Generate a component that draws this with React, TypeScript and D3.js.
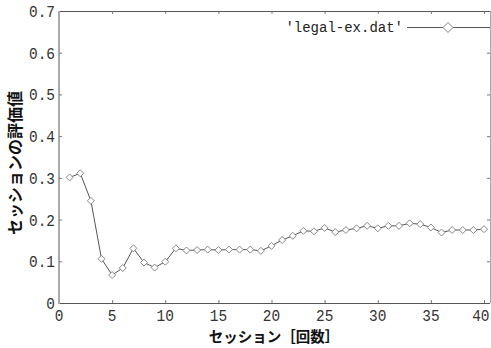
import React from "react";
import * as d3 from "d3";

// values, one per session 1..40
const sessions = d3.range(1, 41);
const scores = [
    0.301, 0.311, 0.245, 0.106, 0.067, 0.084, 0.131, 0.097, 0.085, 0.099,
    0.131, 0.126, 0.127, 0.128, 0.127, 0.128, 0.128, 0.128, 0.125, 0.137,
    0.151, 0.161, 0.173, 0.172, 0.180, 0.170, 0.175, 0.179, 0.185, 0.179,
    0.185, 0.185, 0.191, 0.189, 0.181, 0.169, 0.175, 0.175, 0.175, 0.177,
];
const xTicks = [0, 5, 10, 15, 20, 25, 30, 35, 40];
const yTicks = [0, 0.1, 0.2, 0.3, 0.4, 0.5, 0.6, 0.7];
const seriesName = "'legal-ex.dat'";
const xTitle = "セッション［回数］";
const yTitle = "セッションの評価値";

const width = 491;
const height = 348;
const margin = { top: 11, right: 0, bottom: 45, left: 59 };
const tickFont = "'Liberation Mono', monospace";
const jpFont = "'Noto Sans CJK JP', sans-serif";

function diamond(cx: number, cy: number, r: number) {
    return `M${cx},${cy - r}L${cx + r},${cy}L${cx},${cy + r}L${cx - r},${cy}Z`;
}

export default function App() {
    const x = d3
        .scaleLinear()
        .domain([0, 40])
        .range([margin.left, 484]);
    const y = d3
        .scaleLinear()
        .domain([0, 0.7])
        .range([height - margin.bottom, margin.top]);

    const points = sessions.map((s, i) => ({ s, v: scores[i] }));
    const lineGen = d3
        .line<{ s: number; v: number }>()
        .x((d) => x(d.s))
        .y((d) => y(d.v));

    const left = margin.left;
    const right = width - 1;
    const top = margin.top;
    const bottom = height - margin.bottom;
    const fs = 16;
    const sx = 0.85;

    return (
        <svg
            width={width}
            height={height}
            style={{ position: "absolute", left: 0, top: 0, background: "#fff" }}
        >
            {/* frame */}
            <line x1={left} x2={right} y1={top + 0.5} y2={top + 0.5} stroke="#555" />
            <line x1={left} x2={right} y1={bottom + 0.5} y2={bottom + 0.5} stroke="#555" />
            <line x1={left} x2={left} y1={top} y2={bottom + 1} stroke="#aaa" strokeWidth={2} />
            <line x1={right + 0.5} x2={right + 0.5} y1={top} y2={bottom} stroke="#aaa" />

            {/* x ticks */}
            {xTicks.map((t) => {
                const label = d3.format("d")(t);
                const half = (label.length * fs * 0.6 * sx) / 2;
                const lx = Math.min(x(t), width - 2 - half);
                return (
                    <g key={"x" + t}>
                        {t > 0 && (
                            <>
                                <line x1={x(t) + 0.5} x2={x(t) + 0.5} y1={bottom} y2={bottom - 3} stroke="#777" />
                                <line x1={x(t) + 0.5} x2={x(t) + 0.5} y1={top} y2={top + 3} stroke="#777" />
                            </>
                        )}
                        <g transform={`translate(${lx},${bottom + 18}) scale(${sx},1)`}>
                            <text textAnchor="middle" fontFamily={tickFont} fontSize={fs + 1} fill="#333">
                                {label}
                            </text>
                        </g>
                    </g>
                );
            })}

            {/* y ticks */}
            {yTicks.map((t) => (
                <g key={"y" + t}>
                    {t > 0 && t < 0.7 && (
                        <>
                            <line x1={left} x2={left + 3} y1={y(t) + 0.5} y2={y(t) + 0.5} stroke="#777" />
                            <line x1={right} x2={right - 3} y1={y(t) + 0.5} y2={y(t) + 0.5} stroke="#777" />
                        </>
                    )}
                    <g transform={`translate(${left - 4},${y(t) + 6}) scale(${sx},1)`}>
                        <text textAnchor="end" fontFamily={tickFont} fontSize={fs + 1} fill="#333">
                            {t === 0 ? "0" : d3.format(".1f")(t)}
                        </text>
                    </g>
                </g>
            ))}

            {/* data */}
            <path d={lineGen(points) ?? ""} fill="none" stroke="#555" strokeWidth={1} />
            {points.map((p) => (
                <path
                    key={p.s}
                    d={diamond(x(p.s), y(p.v), 3.5)}
                    fill="#fff"
                    stroke="#888"
                    strokeWidth={1}
                />
            ))}

            {/* legend */}
            <text
                x={403}
                y={32}
                textAnchor="end"
                fontFamily={tickFont}
                fontSize={14}
                fill="#222"
            >
                {seriesName}
            </text>
            <line x1={407} x2={490} y1={27.5} y2={27.5} stroke="#555" />
            <path d={diamond(448, 27.5, 5)} fill="#fff" stroke="#888" />

            {/* titles */}
            <text
                x={274}
                y={342}
                textAnchor="middle"
                fontFamily={jpFont}
                fontSize={14.5}
                fontWeight="bold"
                fill="#111"
            >
                {xTitle}
            </text>
            <text
                transform={`translate(21,${163}) rotate(-90)`}
                textAnchor="middle"
                fontFamily={jpFont}
                fontSize={16}
                fontWeight="bold"
                fill="#111"
            >
                {yTitle}
            </text>
        </svg>
    );
}
